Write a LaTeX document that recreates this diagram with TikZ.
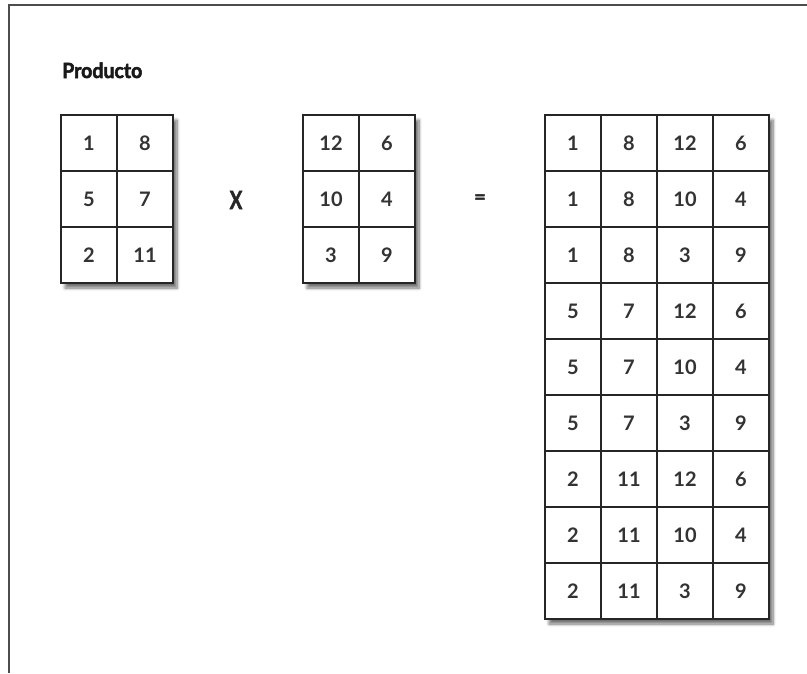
\documentclass[tikz,border=0pt]{standalone}
\usepackage{fontspec}
\setmainfont{Lato}
\newfontfamily\heavyfont{Lato}[FakeBold=2.5]
\usetikzlibrary{shadows.blur}
\begin{document}
\begin{tikzpicture}[x=1pt,y=-1pt,
  cell/.style={draw=black!85, line width=1.4pt, minimum width=56pt, minimum height=56pt, inner sep=0pt,
    font=\bfseries\fontsize{20}{20}\selectfont, text=black!80},
  tab/.style={fill=white, blur shadow={shadow xshift=4pt, shadow yshift=-5pt, shadow blur steps=8, shadow blur radius=3pt, shadow opacity=55}},
  frame/.style={line width=1.4pt, draw=black!70},
  sym/.style={font=\heavyfont\bfseries\fontsize{25}{25}\selectfont, text=black!85}]
\useasboundingbox (0,0) rectangle (807,673);
\draw[frame] (9,673) -- (9,5) -- (807,5);
\node[anchor=base west, font=\heavyfont\bfseries\fontsize{21}{21}\selectfont, text=black!90, inner sep=0pt] (title) at (62,78) {\scalebox{0.93}[1]{Producto}};
% table A
\path[tab] (61,115) rectangle (173,283);
\foreach \r/\a/\b in {0/1/8,1/5/7,2/2/11} {
  \node[cell] (A-\r-0) at (89,{143+56*\r}) {\a};
  \node[cell] (A-\r-1) at (145,{143+56*\r}) {\b};
}
% table B
\path[tab] (303,115) rectangle (415,283);
\foreach \r/\a/\b in {0/12/6,1/10/4,2/3/9} {
  \node[cell] (B-\r-0) at (331,{143+56*\r}) {\a};
  \node[cell] (B-\r-1) at (387,{143+56*\r}) {\b};
}
\node[sym] (times) at (236,200) {\scalebox{0.75}[1]{X}};
\node[sym, font=\heavyfont\bfseries\fontsize{20}{20}\selectfont] (eq) at (480,199) {=};
% table C
\path[tab] (545,115) rectangle (769,619);
\foreach \r/\a/\b/\c/\d in {0/1/8/12/6,1/1/8/10/4,2/1/8/3/9,3/5/7/12/6,4/5/7/10/4,5/5/7/3/9,6/2/11/12/6,7/2/11/10/4,8/2/11/3/9} {
  \node[cell] (C-\r-0) at (573,{143+56*\r}) {\a};
  \node[cell] (C-\r-1) at (629,{143+56*\r}) {\b};
  \node[cell] (C-\r-2) at (685,{143+56*\r}) {\c};
  \node[cell] (C-\r-3) at (741,{143+56*\r}) {\d};
}
\end{tikzpicture}
\end{document}
